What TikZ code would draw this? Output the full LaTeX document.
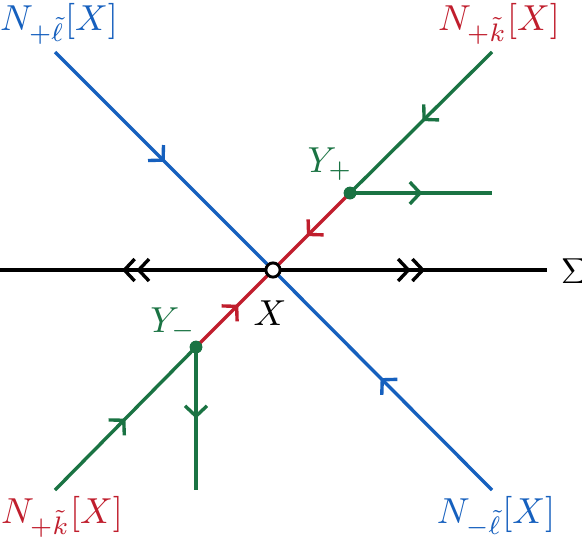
\documentclass[tikz,border=0pt]{standalone}
\usetikzlibrary{arrows.meta,decorations.markings}
\definecolor{cblue}{RGB}{22,96,190}
\definecolor{cred}{RGB}{192,30,45}
\definecolor{cgreen}{RGB}{26,115,67}
\begin{document}
\begin{tikzpicture}[x=0.31pt,y=-0.31pt, line width=1.05pt,
  mtip/.tip={Straight Barb[length=3.2pt,width=6.8pt]},
  mdtip/.tip={Straight Barb[length=3.2pt,width=6.8pt]Straight Barb[length=3.2pt,width=6.8pt]},
  mid/.style={postaction={decorate},decoration={markings,mark=at position #1 with {\arrow{mtip}}}},
  midd/.style={postaction={decorate},decoration={markings,mark=at position #1 with {\arrow{mdtip}}}},
  lab/.style={inner sep=0pt,scale=1.12,anchor=base},
  gdot/.style={circle,fill=cgreen,inner sep=0pt,minimum size=3.9pt},
  odot/.style={circle,draw=black,fill=white,inner sep=0pt,minimum size=4.4pt,line width=0.9pt}]
\useasboundingbox (0,0) rectangle (582,537);
\coordinate (X) at (273,270);
\coordinate (tl) at (55,52);
\coordinate (br) at (492,490);
\coordinate (tr) at (492,52);
\coordinate (bl) at (55,490);
\coordinate (hr) at (492,193);
\coordinate (vb) at (196,490);
\coordinate (sl) at (0,270);
\coordinate (sr) at (547,270);
\node[gdot] (Yp) at (350,193) {};
\node[gdot] (Ym) at (196,347) {};
% blue
\draw[cblue, mid=0.505] (tl) -- (X);
\draw[cblue, mid=0.51] (br) -- (X);
% black
\draw[black, midd=0.553] (X) -- (sl);
\draw[black, midd=0.555] (X) -- (sr);
% red
\draw[cred, mid=0.56] (Yp.center) -- (X);
\draw[cred, mid=0.55] (Ym.center) -- (X);
% green
\draw[cgreen, mid=0.49] (tr) -- (Yp.center);
\draw[cgreen, mid=0.51] (Yp.center) -- (hr);
\draw[cgreen, mid=0.50] (bl) -- (Ym.center);
\draw[cgreen, mid=0.50] (Ym.center) -- (vb);
\node[gdot] at (Yp) {};
\node[gdot] at (Ym) {};
\node[odot] (Xc) at (X) {};
% labels
\node[lab, text=cblue] (l1) at (59,30) {$N_{+\tilde\ell}[X]$};
\node[lab, text=cred] (l2) at (499,30) {$N_{+\tilde k}[X]$};
\node[lab, text=cred] (l3) at (62,523) {$N_{+\tilde k}[X]$};
\node[lab, text=cblue] (l4) at (496,523) {$N_{-\tilde\ell}[X]$};
\node[lab, text=cgreen] (lyp) at (330,172) {$Y_+$};
\node[lab, text=cgreen] (lym) at (173,332) {$Y_-$};
\node[lab] (lx) at (270,325) {$X$};
\node[lab, anchor=base west] (ls) at (559,283) {$\Sigma$};
\end{tikzpicture}
\end{document}
